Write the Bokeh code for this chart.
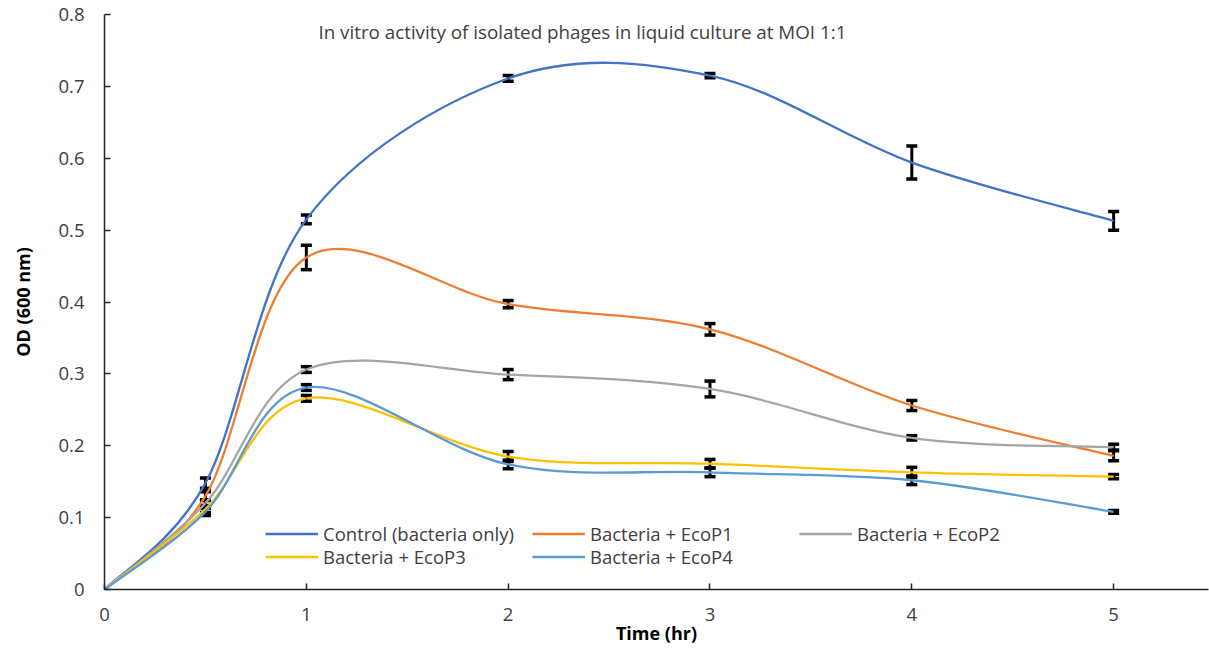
import numpy as np
from bokeh.plotting import figure
from bokeh.models import (ColumnDataSource, Whisker, TeeHead, Legend, LegendItem,
                          Label, FixedTicker)
from bokeh.embed import file_html
from bokeh.resources import INLINE

# ---------------- data ----------------
time_hr = [0, 0.5, 1, 2, 3, 4, 5]

control = [0.0, 0.148, 0.515, 0.711, 0.715, 0.594, 0.513]
control_err = [0.0, 0.007, 0.006, 0.004, 0.003, 0.023, 0.013]

ecop1 = [0.0, 0.130, 0.462, 0.397, 0.362, 0.256, 0.186]
ecop1_err = [0.0, 0.006, 0.017, 0.005, 0.008, 0.007, 0.007]

ecop2 = [0.0, 0.120, 0.306, 0.299, 0.279, 0.211, 0.198]
ecop2_err = [0.0, 0.005, 0.004, 0.007, 0.011, 0.003, 0.004]

ecop3 = [0.0, 0.112, 0.266, 0.185, 0.175, 0.163, 0.157]
ecop3_err = [0.0, 0.005, 0.004, 0.007, 0.006, 0.007, 0.003]

ecop4 = [0.0, 0.108, 0.281, 0.174, 0.163, 0.152, 0.108]
ecop4_err = [0.0, 0.005, 0.004, 0.006, 0.006, 0.006, 0.002]

series_names = ["Control (bacteria only)", "Bacteria + EcoP1", "Bacteria + EcoP2",
                "Bacteria + EcoP3", "Bacteria + EcoP4"]
series_values = [control, ecop1, ecop2, ecop3, ecop4]
series_errors = [control_err, ecop1_err, ecop2_err, ecop3_err, ecop4_err]
series_colors = ["#4472C4", "#ED7D31", "#A5A5A5", "#FFC000", "#5B9BD5"]

title_text = "In vitro activity of isolated phages in liquid culture at MOI  1:1"
y_ticks = [0, 0.1, 0.2, 0.3, 0.4, 0.5, 0.6, 0.7, 0.8]
x_ticks = [0, 1, 2, 3, 4, 5]

FONT = "Open Sans"
AXIS_COLOR = "#262626"
TEXT_COLOR = "#404040"


def smooth_segments(xs, ys):
    """Excel-like smoothed line: Catmull-Rom converted to cubic Bezier segments."""
    xs = np.asarray(xs, float)
    ys = np.asarray(ys, float)
    n = len(xs)
    px = np.concatenate([[xs[0]], xs, [xs[-1]]])
    py = np.concatenate([[ys[0]], ys, [ys[-1]]])
    seg = dict(x0=[], y0=[], x1=[], y1=[], cx0=[], cy0=[], cx1=[], cy1=[])
    for i in range(n - 1):
        p0x, p0y = px[i], py[i]
        p1x, p1y = px[i + 1], py[i + 1]
        p2x, p2y = px[i + 2], py[i + 2]
        p3x, p3y = px[i + 3], py[i + 3]
        seg["x0"].append(p1x); seg["y0"].append(p1y)
        seg["x1"].append(p2x); seg["y1"].append(p2y)
        seg["cx0"].append(p1x + (p2x - p0x) / 6.0)
        seg["cy0"].append(p1y + (p2y - p0y) / 6.0)
        seg["cx1"].append(p2x - (p3x - p1x) / 6.0)
        seg["cy1"].append(p2y - (p3y - p1y) / 6.0)
    return seg


p = figure(width=1209, height=649, x_range=(0, 5.47), y_range=(0, 0.8),
           output_backend="svg", toolbar_location=None,
           min_border_left=104, min_border_right=1, min_border_top=14,
           min_border_bottom=60)
p.outline_line_color = None
p.background_fill_color = "white"
p.border_fill_color = "white"
p.xgrid.grid_line_color = None
p.ygrid.grid_line_color = None

legend_items = {}
for name, vals, errs, col in zip(series_names, series_values, series_errors, series_colors):
    seg = smooth_segments(time_hr, vals)
    r = p.bezier(x0="x0", y0="y0", x1="x1", y1="y1", cx0="cx0", cy0="cy0",
                 cx1="cx1", cy1="cy1", source=ColumnDataSource(seg),
                 line_color=col, line_width=2.3)
    legend_items[name] = r

for vals, errs in zip(series_values, series_errors):
    xs = [t for t, e in zip(time_hr, errs) if e > 0]
    up = [v + e for v, e in zip(vals, errs) if e > 0]
    lo = [v - e for v, e in zip(vals, errs) if e > 0]
    src = ColumnDataSource(dict(x=xs, upper=up, lower=lo))
    w = Whisker(base="x", upper="upper", lower="lower", source=src,
                line_color="black", line_width=3,
                upper_head=TeeHead(size=11, line_width=3.5, line_color="black"),
                lower_head=TeeHead(size=11, line_width=3.5, line_color="black"))
    p.add_layout(w)

# axes
for ax in (p.xaxis[0], p.yaxis[0]):
    ax.axis_line_color = AXIS_COLOR
    ax.axis_line_width = 1.5
    ax.major_tick_line_color = AXIS_COLOR
    ax.major_tick_line_width = 1.5
    ax.major_tick_in = 6
    ax.major_tick_out = 0
    ax.minor_tick_line_color = None
    ax.major_label_text_font = FONT
    ax.major_label_text_color = TEXT_COLOR
    ax.major_label_text_font_size = "18.5px"
    ax.axis_label_text_font = FONT
    ax.axis_label_text_font_style = "bold"
    ax.axis_label_text_color = "black"
    ax.axis_label_text_font_size = "18px"

p.yaxis.ticker = FixedTicker(ticks=y_ticks)
p.xaxis.ticker = FixedTicker(ticks=x_ticks)
p.yaxis.major_label_overrides = {t: ("0" if t == 0 else f"{t:.1f}") for t in y_ticks}
p.yaxis.major_label_standoff = 20
p.xaxis.major_label_standoff = 18
p.xaxis.axis_label = "Time (hr)"
p.yaxis.axis_label = "OD (600 nm)"
p.xaxis.axis_label_standoff = -3
p.yaxis.axis_label_standoff = 20

# title inside plot
p.add_layout(Label(x=1.06, y=0.775, text=title_text, text_font=FONT,
                   text_font_size="18.8px", text_color=TEXT_COLOR,
                   text_baseline="middle", text_align="left"))

# legend: two horizontal rows (3 + 2 entries)
def make_legend(names, loc):
    return Legend(items=[LegendItem(label=n, renderers=[legend_items[n]]) for n in names],
                  orientation="horizontal", location=loc, padding=0, margin=0,
                  spacing=2, glyph_width=53, glyph_height=21, label_standoff=5,
                  label_width=207, label_height=21,
                  label_text_font=FONT, label_text_font_size="18.5px",
                  label_text_color=TEXT_COLOR,
                  border_line_color=None, background_fill_alpha=0)

p.add_layout(make_legend(series_names[:3], (161, 43)))
p.add_layout(make_legend(series_names[3:], (161, 20)))

open("out.html", "w").write(file_html(p, INLINE))
